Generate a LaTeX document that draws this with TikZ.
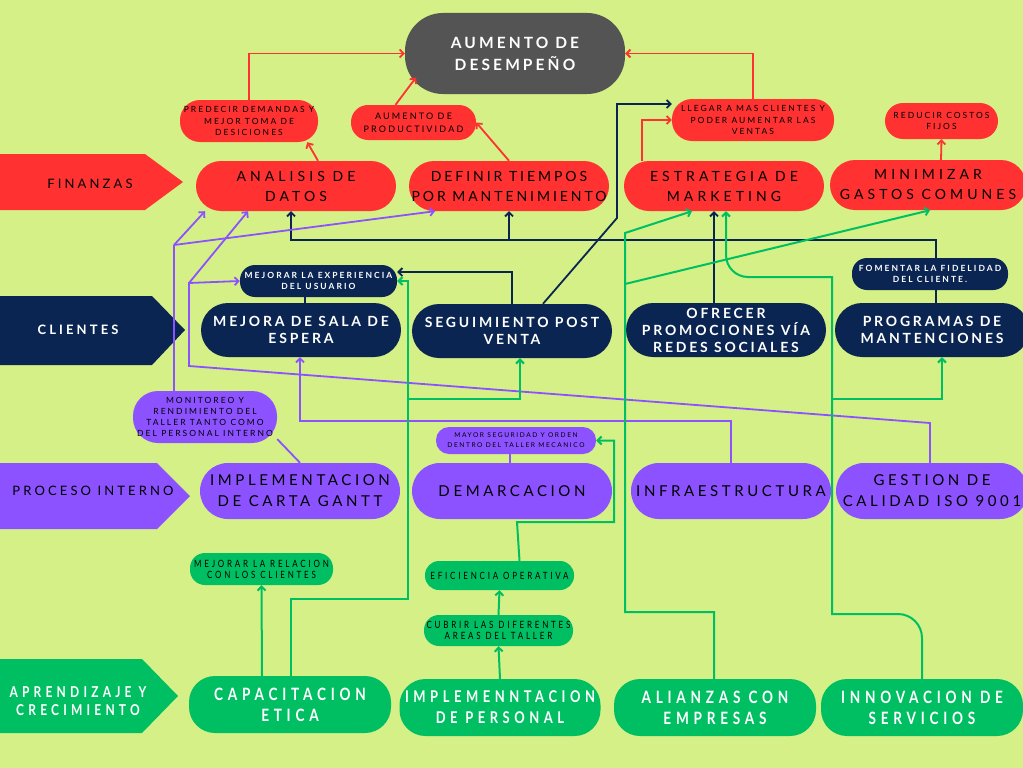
\documentclass[tikz,border=0pt]{standalone}
\usepackage{fontspec}
\usetikzlibrary{arrows.meta}
\newfontfamily\boxfont[LetterSpace=29]{Lato}
\newfontfamily\tightfont[LetterSpace=21]{Lato}
\newfontfamily\navyfont[LetterSpace=20]{Lato}
\newfontfamily\purplefont[LetterSpace=24]{Lato}
\newfontfamily\tagfont[LetterSpace=24]{Lato}
\newfontfamily\condfont[LetterSpace=28,FakeStretch=0.8]{Lato}

\definecolor{bg}{RGB}{212,240,134}
\definecolor{bsred}{RGB}{255,49,49}
\definecolor{bsdark}{RGB}{84,84,84}
\definecolor{bsnavy}{RGB}{11,37,82}
\definecolor{bspurple}{RGB}{140,82,255}
\definecolor{bsgreen}{RGB}{0,191,99}

\tikzset{
  bigbox/.style={rounded corners=25pt, minimum width=200pt, minimum height=50pt, align=center, inner sep=2pt},
  smallbox/.style={rounded corners=15pt, align=center, inner sep=1pt},
  redtext/.style={font=\boxfont\fontsize{14}{20}\selectfont, text=black},
  navytext/.style={font=\navyfont\bfseries\fontsize{14}{17}\selectfont, text=white},
  purpletext/.style={font=\purplefont\fontsize{15}{21}\selectfont, text=black},
  greentext/.style={font=\condfont\bfseries\fontsize{17}{21}\selectfont, text=white},
  tagred/.style={font=\tagfont\fontsize{8.5}{11.5}\selectfont, text=black},
  tagnavy/.style={font=\tagfont\bfseries\fontsize{8.5}{11}\selectfont, text=white},
  tagpurple/.style={font=\tagfont\fontsize{8.5}{11}\selectfont, text=black},
  taggreen/.style={font=\condfont\fontsize{10}{11}\selectfont, text=black},
  arr/.style={-{Straight Barb[length=4pt,width=8pt]}},
  redline/.style={draw=bsred, line width=1.8pt},
  navyline/.style={draw=bsnavy, line width=1.8pt},
  purpleline/.style={draw=bspurple, line width=1.8pt},
  greenline/.style={draw=bsgreen, line width=2pt}
}

\begin{document}
\begin{tikzpicture}[x=1pt,y=1pt,yscale=-1]
\fill[bg] (0,0) rectangle (1023,768);
\useasboundingbox (0,0) rectangle (1023,768);

%Shape: category tags
\fill[bsred] (0,154) -- (145,154) -- (183,182) -- (145,210) -- (0,210) -- cycle;
\fill[bsnavy] (0,296) -- (152,296) -- (185,330) -- (152,365) -- (0,365) -- cycle;
\fill[bspurple] (0,463) -- (157,463) -- (190,496) -- (157,529) -- (0,529) -- cycle;
\fill[bsgreen] (0,659) -- (142,659) -- (178,696) -- (142,733) -- (0,733) -- cycle;
\node[font=\tagfont\fontsize{13}{15}\selectfont] (finanzas) at (90,184) {FINANZAS};
\node[font=\tagfont\bfseries\fontsize{13}{15}\selectfont, text=white] (clientes) at (78,330) {CLIENTES};
\node[font=\tagfont\fontsize{13}{15}\selectfont] (proceso) at (93,491) {PROCESO INTERNO};
\node[font=\condfont\bfseries\fontsize{15}{18}\selectfont, text=white, align=center] (aprendizaje) at (78,701) {APRENDIZAJE Y\\CRECIMIENTO};

%Top node
\node[bigbox, fill=bsdark, minimum width=220pt, minimum height=81pt, rounded corners=38pt,
  font=\navyfont\bfseries\fontsize{15.5}{22}\selectfont, text=white] (desempeno) at (515,53.5) {AUMENTO DE\\DESEMPEÑO};

%Finanzas
\node[bigbox, fill=bsred, redtext] (analisis) at (296,186) {ANALISIS DE\\DATOS};
\node[bigbox, fill=bsred, redtext, font=\tightfont\fontsize{14}{20}\selectfont] (definir) at (509,186) {DEFINIR TIEMPOS\\POR MANTENIMIENTO};
\node[bigbox, fill=bsred, redtext] (estrategia) at (724,186) {ESTRATEGIA DE\\MARKETING};
\node[bigbox, fill=bsred, redtext, minimum width=196pt] (minimizar) at (928,185) {MINIMIZAR\\GASTOS COMUNES};
\node[smallbox, fill=bsred, tagred, minimum width=138pt, minimum height=42pt, rounded corners=20pt] (predecir) at (249,121) {PREDECIR DEMANDAS Y\\MEJOR TOMA DE\\DESICIONES};
\node[smallbox, fill=bsred, tagred, minimum width=125pt, minimum height=35pt, rounded corners=17pt, font=\tagfont\fontsize{9}{13}\selectfont] (productividad) at (413.5,122.5) {AUMENTO DE\\PRODUCTIVIDAD};
\node[smallbox, fill=bsred, tagred, minimum width=162pt, minimum height=42pt, rounded corners=20pt] (llegar) at (753,120) {LLEGAR A MAS CLIENTES Y\\PODER AUMENTAR LAS\\VENTAS};
\node[smallbox, fill=bsred, tagred, minimum width=113pt, minimum height=36pt, rounded corners=18pt, font=\tagfont\fontsize{8.5}{11}\selectfont] (reducir) at (941.5,121) {REDUCIR COSTOS\\FIJOS};

%Clientes
\node[bigbox, fill=bsnavy, navytext, minimum height=54pt, rounded corners=27pt] (sala) at (301,330) {MEJORA DE SALA DE\\ESPERA};
\node[bigbox, fill=bsnavy, navytext, minimum height=54pt, rounded corners=27pt] (seguimiento) at (512,331) {SEGUIMIENTO POST\\VENTA};
\node[bigbox, fill=bsnavy, navytext, minimum height=54pt, rounded corners=27pt] (ofrecer) at (726,330) {OFRECER\\PROMOCIONES VÍA\\REDES SOCIALES};
\node[bigbox, fill=bsnavy, navytext, minimum width=194pt, minimum height=54pt, rounded corners=27pt] (programas) at (932,330) {PROGRAMAS DE\\MANTENCIONES};
\node[smallbox, fill=bsnavy, tagnavy, minimum width=157pt, minimum height=32pt] (experiencia) at (318.5,281) {MEJORAR LA EXPERIENCIA\\DEL USUARIO};
\node[smallbox, fill=bsnavy, tagnavy, minimum width=156pt, minimum height=32pt] (fidelidad) at (930,274) {FOMENTAR LA FIDELIDAD\\DEL CLIENTE.};

%Proceso interno
\node[bigbox, fill=bspurple, purpletext, minimum height=56pt, rounded corners=28pt] (gantt) at (300,491) {IMPLEMENTACION\\DE CARTA GANTT};
\node[bigbox, fill=bspurple, purpletext, minimum height=56pt, rounded corners=28pt] (demarcacion) at (512,491) {DEMARCACION};
\node[bigbox, fill=bspurple, purpletext, minimum height=56pt, rounded corners=28pt] (infra) at (731,491) {INFRAESTRUCTURA};
\node[bigbox, fill=bspurple, purpletext, minimum width=192pt, minimum height=56pt, rounded corners=28pt] (iso) at (932,491) {GESTION DE\\CALIDAD ISO 9001};
\node[smallbox, fill=bspurple, tagpurple, minimum width=144pt, minimum height=52pt, rounded corners=25pt] (monitoreo) at (205,417) {MONITOREO Y\\RENDIMIENTO DEL\\TALLER TANTO COMO\\DEL PERSONAL INTERNO};
\node[smallbox, fill=bspurple, tagpurple, minimum width=160pt, minimum height=27pt, rounded corners=13pt, font=\tagfont\fontsize{6.6}{10}\selectfont] (seguridad) at (516,440.5) {MAYOR SEGURIDAD Y ORDEN\\DENTRO DEL TALLER MECANICO};

%Aprendizaje y crecimiento
\node[bigbox, fill=bsgreen, greentext, minimum width=202pt, minimum height=57pt, rounded corners=26pt] (capacitacion) at (290,704.5) {CAPACITACION\\ETICA};
\node[bigbox, fill=bsgreen, greentext, minimum width=201pt, minimum height=57pt, rounded corners=26pt, font=\condfont\bfseries\fontsize{16.2}{21}\selectfont] (personal) at (500,707.5) {IMPLEMENNTACION\\DE PERSONAL};
\node[bigbox, fill=bsgreen, greentext, minimum width=202pt, minimum height=57pt, rounded corners=26pt] (alianzas) at (715,707.5) {ALIANZAS CON\\EMPRESAS};
\node[bigbox, fill=bsgreen, greentext, minimum width=202pt, minimum height=57pt, rounded corners=26pt] (innovacion) at (922,707.5) {INNOVACION DE\\SERVICIOS};
\node[smallbox, fill=bsgreen, taggreen, minimum width=143pt, minimum height=32pt] (relacion) at (261.5,569) {MEJORAR LA RELACION\\CON LOS CLIENTES};
\node[smallbox, fill=bsgreen, taggreen, minimum width=149pt, minimum height=29pt, rounded corners=14pt] (eficiencia) at (499.5,575.5) {EFICIENCIA OPERATIVA};
\node[smallbox, fill=bsgreen, taggreen, minimum width=149pt, minimum height=31pt] (cubrir) at (498.5,630.5) {CUBRIR LAS DIFERENTES\\AREAS DEL TALLER};

%Junctions
\coordinate (nb1) at (617,218);
\coordinate (busL) at (291,240);
\coordinate (busR) at (936,240);
\coordinate (pj1) at (174,245);
\coordinate (pj2) at (189,283);
\coordinate (pj3) at (189,366);
\coordinate (pj4) at (930,423);
\coordinate (pj5) at (300,421);
\coordinate (gj1) at (408,599);
\coordinate (gj2) at (408,399);
\coordinate (gj3) at (517,522);
\coordinate (gj4) at (614,522);
\coordinate (gj5) at (625,612);
\coordinate (gj6) at (625,233);
\coordinate (gj7) at (625,284);
\coordinate (gj8) at (832,614);
\coordinate (gj9) at (832,277);
\coordinate (gj10) at (832,399);

%Red connectors
\draw[redline, arr] (predecir.north) |- (desempeno.west);
\draw[redline, arr] ([xshift=-18pt]productividad.north) -- ([xshift=-99pt,yshift=24pt]desempeno.center);
\draw[redline, arr] ([xshift=22pt]analisis.north) -- (predecir.-20);
\draw[redline, arr] (definir.north) -- (productividad.east);
\draw[redline, arr] ([xshift=-82pt]estrategia.north) |- (llegar.west);
\draw[redline, arr] (llegar.north) |- (desempeno.east);
\draw[redline, arr] ([xshift=13pt]minimizar.north) -- (reducir.south);

%Navy connectors
\draw[navyline, arr] ([xshift=31pt]seguimiento.north) -- (nb1) |- ([yshift=-16pt]llegar.west);
\draw[navyline, arr] (busR |- fidelidad.north) -- (busR) -- (busL) -- (busL |- analisis.south);
\draw[navyline, arr] (definir.south |- busL) -- (definir.south);
\draw[navyline, arr] ([xshift=-12pt]ofrecer.north) -- ([xshift=-10pt]estrategia.south);
\draw[navyline, arr] (seguimiento.north) |- ([yshift=-9pt]experiencia.east);
\draw[navyline] ([xshift=4pt]sala.north) -- ++(0,-6);
\draw[navyline] ([xshift=6pt]fidelidad.south) -- ([xshift=4pt]programas.north);

%Purple connectors
\draw[purpleline] ([xshift=-31pt]monitoreo.north) -- (pj1);
\draw[purpleline, arr] (pj1) -- ([xshift=-91pt]analisis.south);
\draw[purpleline, arr] (pj1) -- ([xshift=-74pt]definir.south);
\draw[purpleline, arr] (iso.north -| pj4) -- (pj4) -- (pj3) -- (pj2) -- (experiencia.west);
\draw[purpleline, arr] (pj2) -- ([xshift=-48pt]analisis.south);
\draw[purpleline, arr] (infra.north) |- (pj5) -- (pj5 |- sala.south);
\draw[purpleline] (gantt.north) -- (monitoreo.-17);
\draw[purpleline] ([xshift=-2pt]demarcacion.north) -- (seguridad.south -| 510,0);

%Green connectors
\draw[greenline, arr] ([xshift=-28pt]capacitacion.north) -- (relacion.south);
\draw[greenline, arr] ([xshift=1pt]capacitacion.north) |- (gj1) -- (gj1 |- experiencia.east) -- (experiencia.east);
\draw[greenline, arr] (gj2) -| ([xshift=8pt]seguimiento.south);
\draw[greenline, arr] (personal.north) -- (cubrir.south);
\draw[greenline, arr] (cubrir.north) -- (eficiencia.south);
\draw[greenline, arr] ([xshift=20pt]eficiencia.north) -- (gj3) -- (gj4) |- (seguridad.east);
\draw[greenline, arr] ([xshift=-1pt]alianzas.north) |- (gj5) -- (gj6) -- ([xshift=-32pt]estrategia.south);
\draw[greenline, arr] (gj7) -- ([xshift=2pt]minimizar.south);
\draw[greenline, arr] (innovacion.north) [rounded corners=24pt] -- (innovacion.north |- gj8) [sharp corners] -- (gj8) -- (gj9) [rounded corners=22pt] -| ([xshift=2pt]estrategia.south);
\draw[greenline, arr] (gj10) -| ([xshift=10pt]programas.south);

\end{tikzpicture}
\end{document}
